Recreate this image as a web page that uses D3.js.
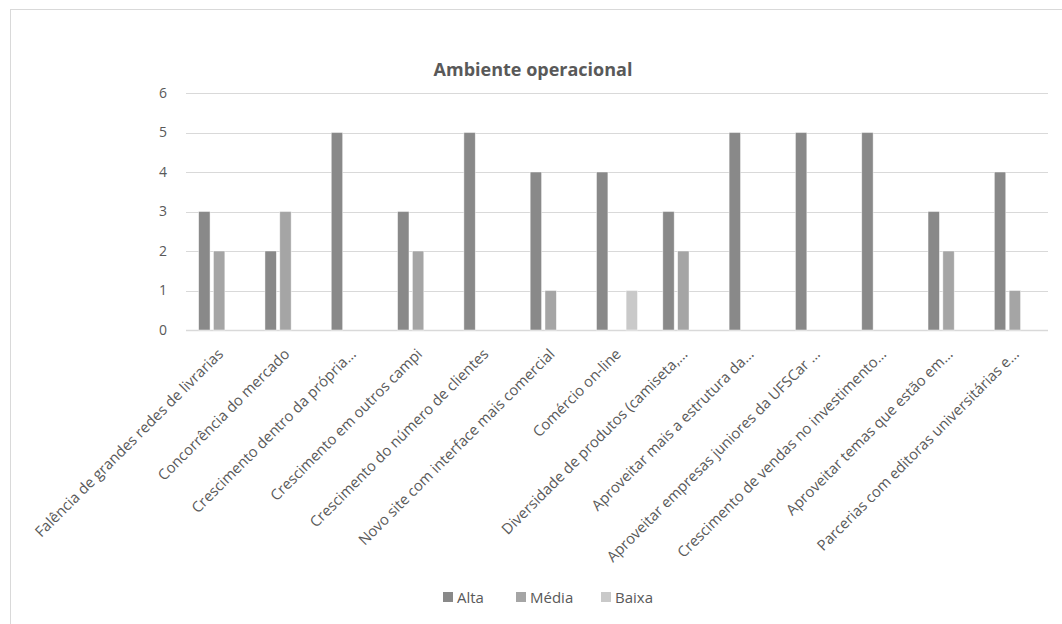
<!DOCTYPE html>
<html>
<head>
<meta charset="utf-8">
<script src="https://cdn.jsdelivr.net/npm/d3@7"></script>
<style>
  html, body { margin: 0; padding: 0; background: #fff; }
  svg { display: block; }
</style>
</head>
<body>
<svg id="chart" width="1062" height="624"></svg>
<script>
const title = "Ambiente operacional";
const categories = [
  "Falência de grandes redes de livrarias",
  "Concorrência do mercado",
  "Crescimento dentro da própria…",
  "Crescimento em outros campi",
  "Crescimento do número de clientes",
  "Novo site com interface mais comercial",
  "Comércio on-line",
  "Diversidade de produtos (camiseta,…",
  "Aproveitar mais a estrutura da…",
  "Aproveitar empresas juniores da UFSCar …",
  "Crescimento de vendas no investimento…",
  "Aproveitar temas que estão em…",
  "Parcerias com editoras universitárias e…"
];
const seriesNames = ["Alta", "Média", "Baixa"];
const alta  = [3, 2, 5, 3, 5, 4, 4, 3, 5, 5, 5, 3, 4];
const media = [2, 3, 0, 2, 0, 1, 0, 2, 0, 0, 0, 2, 1];
const baixa = [0, 0, 0, 0, 0, 0, 1, 0, 0, 0, 0, 0, 0];
const yTicks = [0, 1, 2, 3, 4, 5, 6];
const colors = ["#898989", "#a5a5a5", "#c9c9c9"];

const seriesValues = [alta, media, baixa];
const svg = d3.select("#chart");
const font = "'Open Sans', 'DejaVu Sans', sans-serif";
const textColor = "#595959";

// chart area border
svg.append("rect")
  .attr("x", 10.5).attr("y", 9.5)
  .attr("width", 1100).attr("height", 700)
  .attr("fill", "#fff").attr("stroke", "#d9d9d9").attr("stroke-width", 1);

const plot = { left: 186, right: 1048, top: 93, bottom: 330 };

const x0 = d3.scaleBand().domain(categories).range([plot.left, plot.right]).paddingInner(0).paddingOuter(0);
const groupPad = 12.65;
const x1 = d3.scaleBand().domain(seriesNames)
  .range([groupPad, x0.bandwidth() - groupPad]).paddingInner(0.23).paddingOuter(0);
const y = d3.scaleLinear().domain([0, 6]).range([plot.bottom, plot.top]);

// gridlines
svg.append("g").selectAll("line").data(yTicks).join("line")
  .attr("x1", plot.left).attr("x2", plot.right)
  .attr("y1", d => Math.round(y(d)) + 0.5).attr("y2", d => Math.round(y(d)) + 0.5)
  .attr("stroke", "#d9d9d9").attr("stroke-width", d => d === 0 ? 1.5 : 1);

// y tick labels
svg.append("g").selectAll("text").data(yTicks).join("text")
  .attr("x", 167).attr("y", d => y(d))
  .attr("dy", "0.35em")
  .attr("text-anchor", "end")
  .attr("font-family", font).attr("font-size", 14)
  .attr("fill", textColor)
  .text(d => d);

// bars
const rows = [];
categories.forEach((c, i) => {
  seriesNames.forEach((s, j) => {
    rows.push({ cat: c, series: s, value: seriesValues[j][i], color: colors[j] });
  });
});
svg.append("g").selectAll("rect").data(rows.filter(d => d.value > 0)).join("rect")
  .attr("x", d => x0(d.cat) + x1(d.series))
  .attr("y", d => y(d.value))
  .attr("width", x1.bandwidth())
  .attr("height", d => y(0) - y(d.value))
  .attr("fill", d => d.color)
  .attr("stroke", "#ffffff").attr("stroke-opacity", 0.6).attr("stroke-width", 0.75);

// x labels
svg.append("g").selectAll("text").data(categories).join("text")
  .attr("transform", d => {
    const cx = x0(d) + x0.bandwidth() / 2 + 5;
    const cy = plot.bottom + 25;
    return `translate(${cx},${cy}) rotate(-45)`;
  })
  .attr("text-anchor", "end")
  .attr("font-family", font).attr("font-size", 14.8)
  .attr("fill", textColor)
  .text(d => d);

// title
svg.append("text")
  .attr("x", 533).attr("y", 76)
  .attr("text-anchor", "middle")
  .attr("font-family", "'Open Sans', sans-serif").attr("font-weight", "bold")
  .attr("font-size", 18)
  .attr("fill", textColor)
  .text(title);

// legend
const legendItems = [
  { name: "Alta", x: 443, color: colors[0] },
  { name: "Média", x: 516, color: colors[1] },
  { name: "Baixa", x: 601, color: colors[2] }
];
const lg = svg.append("g");
lg.selectAll("rect").data(legendItems).join("rect")
  .attr("x", d => d.x).attr("y", 592)
  .attr("width", 10).attr("height", 10)
  .attr("fill", d => d.color);
lg.selectAll("text").data(legendItems).join("text")
  .attr("x", d => d.x + 14).attr("y", 603)
  .attr("font-family", font).attr("font-size", 15)
  .attr("fill", textColor)
  .text(d => d.name);
</script>
</body>
</html>
